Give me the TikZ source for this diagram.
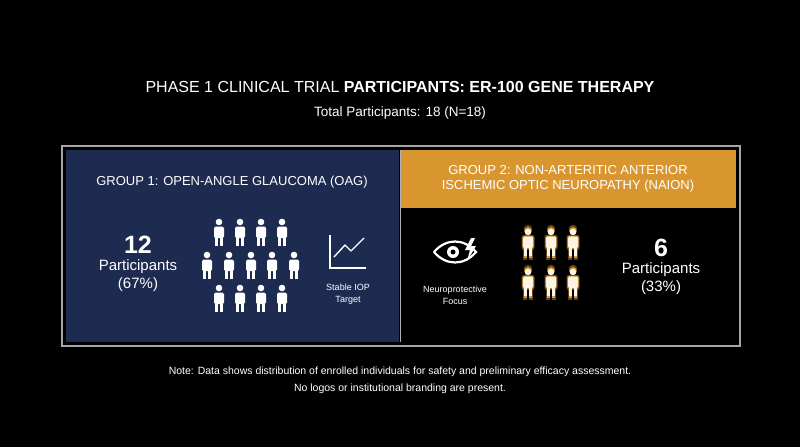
\documentclass[tikz,border=0pt]{standalone}
\usepackage{fontspec}
\setmainfont{Liberation Sans}
\usetikzlibrary{positioning}
\definecolor{navy}{HTML}{1D2B50}
\definecolor{amber}{HTML}{D9962F}
\definecolor{glow}{HTML}{F2B445}
\tikzset{
  txt/.style={text=white, align=center, inner sep=0pt},
  person/.pic={
    \fill[#1] (0,-10) circle (3.3);
    \fill[#1, rounded corners=1.5] (-5,-5.5) rectangle (5,6);
    \fill[#1] (-4,5) rectangle (-0.6,14);
    \fill[#1] (0.6,5) rectangle (4,14);
  }
}
\begin{document}
\begin{tikzpicture}[x=1pt, y=-1pt]
  \fill[black] (0,0) rectangle (800,447);
  \useasboundingbox (0,0) rectangle (800,447);

  % title
  \node[txt, font=\fontsize{16}{20}\selectfont] (title) at (400,87)
    {PHASE 1 CLINICAL TRIAL \textbf{PARTICIPANTS: ER-100 GENE THERAPY}};
  \node[txt, font=\fontsize{13.5}{16}\selectfont, below=14pt of title] (total)
    {Total Participants: 18 (N=18)};

  % panels
  \draw[gray!70, line width=1.2pt] (62,146) rectangle (740,346);
  \fill[navy] (66,150) rectangle (399,342);
  \fill[amber] (401,150) rectangle (736,208);
  \draw[gray!60, line width=0.6pt] (400,150) -- (400,342);

  % group 1
  \node[txt, font=\fontsize{13}{15}\selectfont] (g1) at (232,182)
    {GROUP 1: OPEN-ANGLE GLAUCOMA (OAG)};
  \node[txt, font=\bfseries\fontsize{25}{28}\selectfont] (n1) at (138,245) {12};
  \node[txt, font=\fontsize{15}{18}\selectfont, below=5pt of n1] (p1)
    {Participants\\(67\%)};
  \foreach \x in {219,240,261,282} {
    \pic at (\x,232) {person=white};
    \pic at (\x,298) {person=white};
  }
  \foreach \x in {207,229,251,272,294}
    \pic at (\x,265) {person=white};
  \draw[white, line width=1.4pt] (330,235) -- (330,268) -- (366,268);
  \draw[white, line width=1.4pt, line join=round] (334,257) -- (345,245) -- (351,251) -- (364,238);
  \node[txt, font=\fontsize{9}{12}\selectfont] (iop) at (348,294) {Stable IOP\\Target};

  % group 2
  \node[txt, font=\fontsize{13}{15}\selectfont] (g2) at (568,179)
    {GROUP 2: NON-ARTERITIC ANTERIOR\\ISCHEMIC OPTIC NEUROPATHY (NAION)};
  \draw[white, line width=2.2pt] (434,252) .. controls (446,238) and (464,238) .. (476,252)
    .. controls (464,266) and (446,266) .. (434,252);
  \fill[white] (453,252) circle (6);
  \fill[black] (453,252) circle (2.5);
  \fill[white] (471,238) -- (465,250) -- (470,250) -- (467,261) -- (476,246) -- (471,246) -- (475,238) -- cycle;
  \node[txt, font=\fontsize{9}{12}\selectfont] (focus) at (455,295) {Neuroprotective\\Focus};
  \foreach \y in {242,282}
    \foreach \x in {528,551,573} {
      \pic[scale=1.3, opacity=0.45] at (\x,\y) {person=amber};
      \pic[scale=1.12, opacity=0.8] at (\x,\y) {person=glow};
      \pic at (\x,\y) {person=white!85!glow};
    }
  \node[txt, font=\bfseries\fontsize{25}{28}\selectfont] (n2) at (661,248) {6};
  \node[txt, font=\fontsize{15}{18}\selectfont, below=5pt of n2] (p2)
    {Participants\\(33\%)};

  % note
  \node[txt, font=\fontsize{10.5}{17}\selectfont] (note) at (400,380)
    {Note: Data shows distribution of enrolled individuals for safety and preliminary efficacy assessment.\\No logos or institutional branding are present.};
\end{tikzpicture}
\end{document}
